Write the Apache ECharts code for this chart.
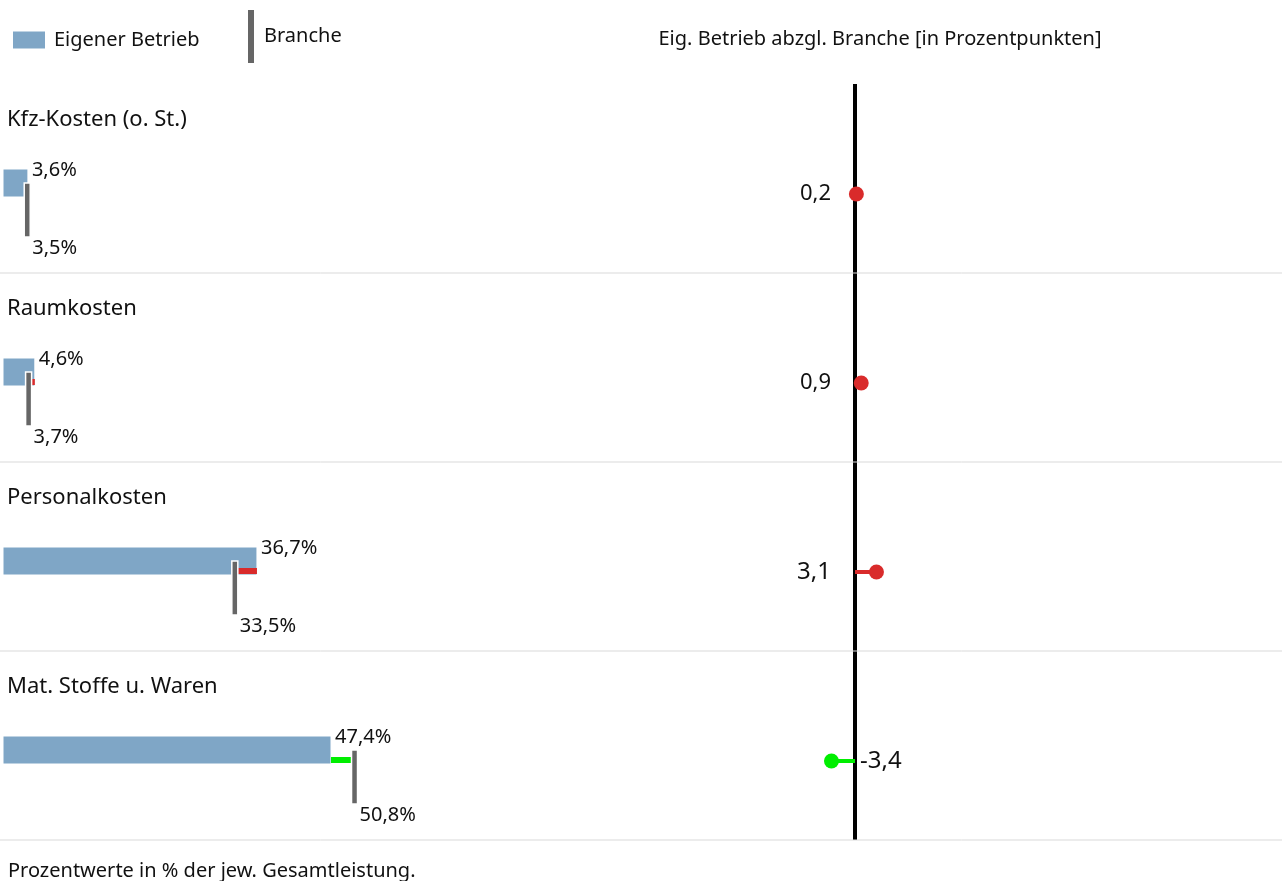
<!DOCTYPE html>
<html><head><meta charset="utf-8">
<script src="https://cdn.jsdelivr.net/npm/echarts@6/dist/echarts.min.js"></script>
<style>html,body{margin:0;padding:0;background:#fff}#c{width:1282px;height:881px}</style>
</head><body><div id="c"></div>
<script>
const categories = ['Kfz-Kosten (o. St.)', 'Raumkosten', 'Personalkosten', 'Mat. Stoffe u. Waren'];
const ownValues = [3.6, 4.6, 36.7, 47.4];
const branchValues = [3.5, 3.7, 33.5, 50.8];
const diffValues = [0.2, 0.9, 3.1, -3.4];

const FONT = 'Noto Sans';
const C_OWN = '#7fa6c6', C_BR = '#666666', C_RED = '#d92b2b', C_GREEN = '#00ee00';
const fmt = v => v.toFixed(1).replace('.', ',');

const chart = echarts.init(document.getElementById('c'));
const rows = categories.map((c, i) => [ownValues[i], i, branchValues[i]]);
const diffRows = categories.map((c, i) => [diffValues[i], i]);

function band(api) {
  const p = api.coord([0, api.value(1)]);
  const h = api.size([0, 1])[1];
  return { x0: p[0], top: p[1] - h / 2, h };
}

chart.setOption({
  animation: false,
  textStyle: { fontFamily: FONT },
  title: [
    { text: 'Eig. Betrieb abzgl. Branche [in Prozentpunkten]', left: 875, top: 24, textAlign: 'center',
      textStyle: { fontSize: 20, fontWeight: 'normal', color: '#111', fontFamily: FONT } },
    { text: 'Prozentwerte in % der jew. Gesamtleistung.', left: 3, top: 856,
      textStyle: { fontSize: 20, fontWeight: 'normal', color: '#111', fontFamily: FONT } }
  ],
  legend: [
    { data: ['Eigener Betrieb'], left: 8, top: 25, icon: 'rect', itemWidth: 32, itemHeight: 17, selectedMode: false,
      textStyle: { fontSize: 20, color: '#111', fontFamily: FONT, padding: [0, 0, 0, 4] } },
    { data: ['Branche'], left: 243, top: 5, icon: 'rect', itemWidth: 6, itemHeight: 53, selectedMode: false,
      textStyle: { fontSize: 20, color: '#111', fontFamily: FONT, padding: [4, 0, 0, 5] } }
  ],
  grid: [
    { left: 3, top: 84, width: 415.2, height: 756 },
    { left: 785.8, top: 84, width: 138.4, height: 756 }
  ],
  xAxis: [
    { gridIndex: 0, type: 'value', min: 0, max: 60, show: false },
    { gridIndex: 1, type: 'value', min: -10, max: 10, show: false }
  ],
  yAxis: [
    { gridIndex: 0, type: 'category', data: categories, inverse: true, show: false },
    { gridIndex: 1, type: 'category', data: categories, inverse: true,
      axisLine: { show: true, onZero: true, lineStyle: { color: '#000', width: 4, cap: 'butt' } },
      axisTick: { show: false }, axisLabel: { show: false }, splitLine: { show: false } }
  ],
  series: [
    {
      name: 'Eigener Betrieb', type: 'custom', xAxisIndex: 0, yAxisIndex: 0,
      itemStyle: { color: C_OWN }, data: rows, z: 2,
      renderItem: (params, api) => {
        const b = band(api);
        const xe = api.coord([api.value(0), api.value(1)])[0];
        const xb = api.coord([api.value(2), api.value(1)])[0];
        const diff = api.value(0) - api.value(2);
        const children = [
          { type: 'line', shape: { x1: 0, y1: b.top + b.h, x2: 1282, y2: b.top + b.h },
            style: { stroke: '#d9d9d9', lineWidth: 1 } },
          { type: 'text', style: { text: categories[api.value(1)], x: b.x0 + 4, y: b.top + 36,
            textVerticalAlign: 'middle', fontSize: 22, fontFamily: FONT, fill: '#111' } },
          { type: 'rect', shape: { x: b.x0, y: b.top + 85, width: xe - b.x0, height: 28 },
            style: { fill: C_OWN, stroke: '#fff', lineWidth: 1 } },
          { type: 'rect', shape: { x: Math.min(xe, xb), y: b.top + 106, width: Math.abs(xe - xb), height: 6 },
            style: { fill: diff > 0 ? C_RED : C_GREEN } },
          { type: 'text', style: { text: fmt(api.value(0)) + '%', x: xe + 4, y: b.top + 86,
            textVerticalAlign: 'middle', fontSize: 20, fontFamily: FONT, fill: '#111' } }
        ];
        return { type: 'group', children };
      }
    },
    {
      name: 'Branche', type: 'custom', xAxisIndex: 0, yAxisIndex: 0,
      itemStyle: { color: C_BR }, data: rows, z: 3,
      encode: { x: 2, y: 1 },
      renderItem: (params, api) => {
        const b = band(api);
        const xb = api.coord([api.value(2), api.value(1)])[0];
        return { type: 'group', children: [
          { type: 'rect', shape: { x: xb - 3, y: b.top + 99, width: 6, height: 54 },
            style: { fill: C_BR, stroke: '#fff', lineWidth: 1.5 } },
          { type: 'text', style: { text: fmt(api.value(2)) + '%', x: xb + 5, y: b.top + 164,
            textVerticalAlign: 'middle', fontSize: 20, fontFamily: FONT, fill: '#111' } }
        ] };
      }
    },
    {
      name: 'Differenz', type: 'custom', xAxisIndex: 1, yAxisIndex: 1, data: diffRows, z: 4,
      renderItem: (params, api) => {
        const v = api.value(0);
        const p0 = api.coord([0, api.value(1)]);
        const h = api.size([0, 1])[1];
        const y = p0[1] - h / 2 + 110;
        const x = api.coord([v, api.value(1)])[0];
        const col = v > 0 ? C_RED : C_GREEN;
        const big = Math.abs(v) >= 1;
        return { type: 'group', children: [
          { type: 'line', shape: { x1: p0[0], y1: y, x2: x, y2: y }, style: { stroke: col, lineWidth: 4 } },
          { type: 'circle', shape: { cx: x, cy: y, r: 7.5 }, style: { fill: col } },
          { type: 'text', style: { text: fmt(v), x: v >= 0 ? p0[0] - 24 : p0[0] + 5, y: y,
            textAlign: v >= 0 ? 'right' : 'left', textVerticalAlign: 'middle',
            fontSize: big ? 24 : 22, fontFamily: FONT, fill: '#111' } }
        ] };
      }
    }
  ]
});
</script></body></html>
